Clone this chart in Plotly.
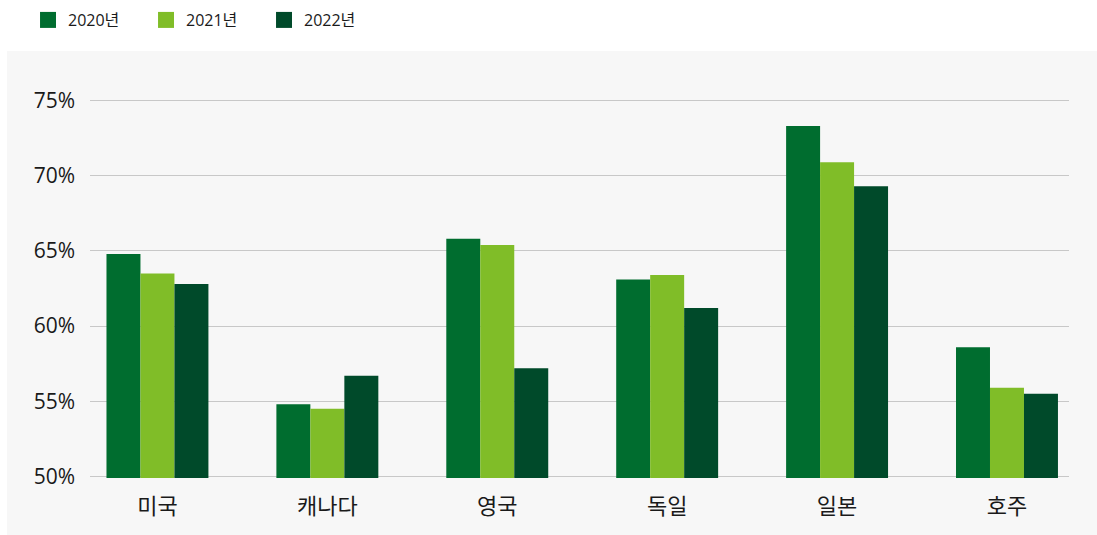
import plotly.graph_objects as go

categories = ["미국", "캐나다", "영국", "독일", "일본", "호주"]
years = ["2020년", "2021년", "2022년"]
v2020 = [64.8, 54.8, 65.8, 63.1, 73.3, 58.6]
v2021 = [63.5, 54.5, 65.4, 63.4, 70.9, 55.9]
v2022 = [62.8, 56.7, 57.2, 61.2, 69.3, 55.5]
colors = ["#006d2f", "#80bd28", "#004a2a"]
y_ticks = [50, 55, 60, 65, 70, 75]
y_tick_labels = ["50%", "55%", "60%", "65%", "70%", "75%"]

FONT = "Open Sans, Noto Sans CJK KR, sans-serif"

fig = go.Figure()
for name, vals, col in zip(years, [v2020, v2021, v2022], colors):
    fig.add_trace(go.Bar(x=categories, y=vals, name=name, marker_color=col,
                         marker_line_width=0, showlegend=False,
                         hovertemplate="%{x} " + name + ": %{y}%<extra></extra>"))
    fig.add_trace(go.Scatter(x=[None], y=[None], mode="markers", name=name,
                             marker=dict(symbol="square", size=22, color=col),
                             showlegend=True))

# plot area: y 99..478 px (379 px) for range 49.9..75.1
fig.add_shape(type="rect", xref="paper", yref="paper",
              x0=-0.0848, x1=1.05, y0=-0.2, y1=1.1266,
              fillcolor="#f7f7f7", line_width=0, layer="below")

fig.update_layout(
    width=1097, height=535,
    margin=dict(l=90, r=28, t=99, b=57, autoexpand=False),
    paper_bgcolor="white",
    plot_bgcolor="#f7f7f7",
    barmode="group",
    bargap=0.4,
    bargroupgap=0,
    font=dict(family=FONT, color="#1a1a1a"),
    legend=dict(orientation="h", x=-0.0633, xanchor="left", y=1.2084, yanchor="middle",
                font=dict(size=16, color="#1a1a1a"), entrywidth=73,
                entrywidthmode="pixels", bgcolor="rgba(0,0,0,0)", itemclick=False),
    xaxis=dict(showgrid=False, showline=False, ticks="", tickfont=dict(size=22),
               range=[-0.397, 5.365], ticklabelstandoff=13, fixedrange=True),
    yaxis=dict(range=[49.9, 75.1], tickvals=y_ticks, ticktext=y_tick_labels,
               tickfont=dict(size=21), showgrid=True, gridcolor="#c8c8c8",
               gridwidth=1, zeroline=False, showline=False, ticks="",
               ticklabelstandoff=14, fixedrange=True),
)

fig.write_html("out.html", config={"displayModeBar": False},
               post_script="document.body.style.margin='0';")
